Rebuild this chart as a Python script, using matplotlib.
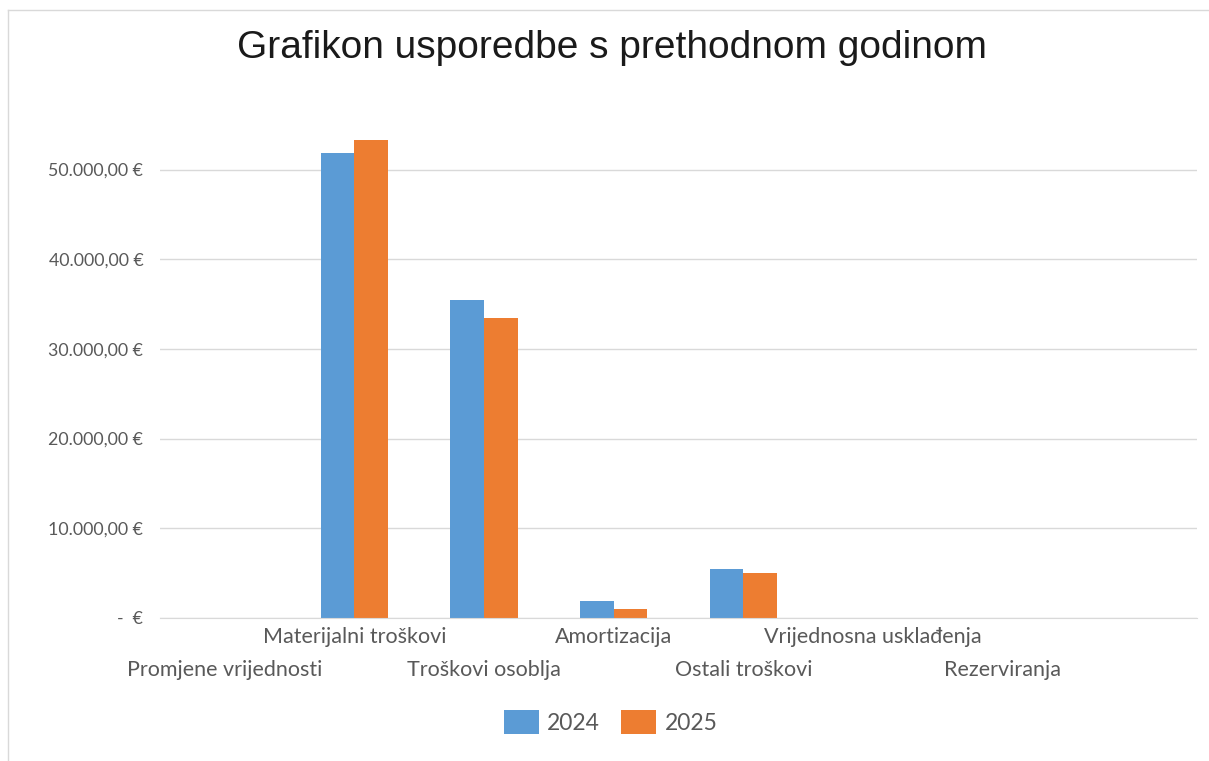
import numpy as np
import matplotlib.pyplot as plt
from matplotlib.transforms import blended_transform_factory

# data
categories = ['Promjene vrijednosti', 'Materijalni troškovi', 'Troškovi osoblja',
              'Amortizacija', 'Ostali troškovi', 'Vrijednosna usklađenja',
              'Rezerviranja', '']
vals_2024 = [0, 51900, 35400, 1900, 5450, 0, 0, 0]
vals_2025 = [0, 53300, 33400, 1000, 5000, 0, 0, 0]
series_names = ['2024', '2025']
yticks = [0, 10000, 20000, 30000, 40000, 50000]

def eur(v):
    if v == 0:
        return '-  €'
    s = f'{v:,.2f}'.replace(',', 'X').replace('.', ',').replace('X', '.')
    return s + ' €'

fig = plt.figure(figsize=(12.09, 7.61), dpi=100)
ax = fig.add_axes([0.1323, 0.188, 0.858, 0.707])

x = np.arange(len(categories))
w = 0.26
b1 = ax.bar(x - w/2, vals_2024, w, color='#5B9BD5', label=series_names[0])
b2 = ax.bar(x + w/2, vals_2025, w, color='#ED7D31', label=series_names[1])

ax.set_xlim(-0.5, len(categories) - 0.5)
ax.set_ylim(0, 60000)
ax.set_yticks(yticks)
ax.set_yticklabels([eur(v) for v in yticks], fontfamily='Lato', fontsize=12.8, color='#595959')
ax.tick_params(axis='y', length=0, pad=12)
ax.set_xticks([])
ax.grid(axis='y', color='#D9D9D9', linewidth=1)
ax.set_axisbelow(True)
for s in ['top', 'right', 'left']:
    ax.spines[s].set_visible(False)
ax.spines['bottom'].set_color('#D9D9D9')

# staggered category labels (two rows, like Excel does)
tr = blended_transform_factory(ax.transData, fig.transFigure)
for i, c in enumerate(categories):
    yy = 1 - 637/761 if i % 2 else 1 - 670/761
    ax.text(i, yy, c, transform=tr, ha='center', va='center',
            fontfamily='Lato', fontsize=15.5, color='#595959')

fig.text(0.506, 1 - 48/761, 'Grafikon usporedbe s prethodnom godinom',
         ha='center', va='center', fontfamily='Liberation Sans', fontsize=28, color='#1a1a1a')

leg = fig.legend(handles=[b1, b2], labels=series_names, loc='center',
                 bbox_to_anchor=(0.505, 1 - 722/761), ncol=2, frameon=False,
                 prop={'family': 'Lato', 'size': 16.5}, handlelength=1.55, handleheight=1.25,
                 handletextpad=0.35, columnspacing=0.9)
for t in leg.get_texts():
    t.set_color('#595959')

# chart border lines (left and top), as in the screenshot
fig.add_artist(plt.Line2D([8/1209, 8/1209], [0, 1 - 10/761], color='#D9D9D9', lw=1))
fig.add_artist(plt.Line2D([8/1209, 1], [1 - 10/761, 1 - 10/761], color='#D9D9D9', lw=1))

fig.savefig('out.png', dpi=100)
